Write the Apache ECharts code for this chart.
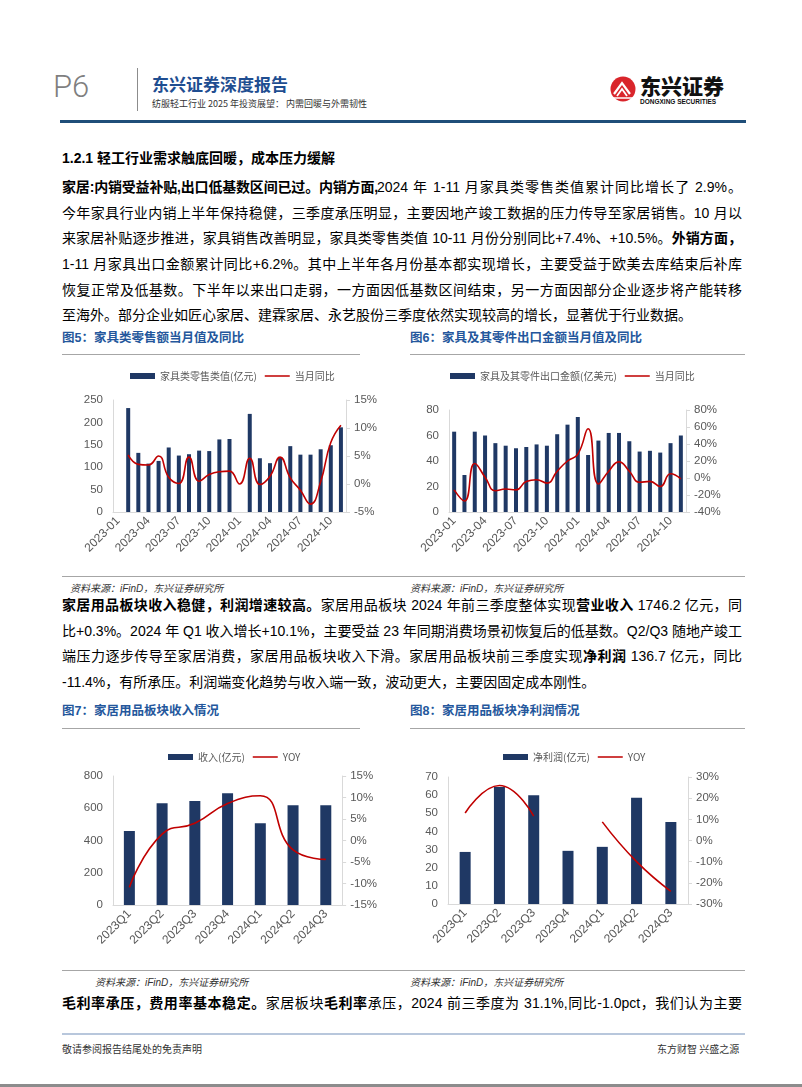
<!DOCTYPE html>
<html>
<head>
<meta charset="utf-8">
<script src="https://cdn.jsdelivr.net/npm/echarts@6/dist/echarts.min.js"></script>
<style>
  html, body { margin:0; padding:0; }
  body { width:802px; height:1087px; position:relative; background:#fff; overflow:hidden;
         font-family:"Liberation Sans","Noto Sans CJK SC",sans-serif; color:#000; }
  .abs { position:absolute; white-space:nowrap; }
  .ln { position:absolute; left:62px; width:680px; font-size:14px; line-height:20px; height:20px;
        text-align:justify; text-align-last:justify; white-space:normal; overflow:visible; }
  .last { text-align-last:left; }
  .figt { position:absolute; font-size:12.5px; font-weight:bold; color:#24579c; white-space:nowrap; }
  .src { position:absolute; font-size:10px; font-style:italic; color:#333; white-space:nowrap; }
  .hr { position:absolute; height:0; }
  .chart { position:absolute; }
</style>
</head>
<body>
<!-- header -->
<div class="abs" style="left:53px;top:68px;font-family:Roboto,'Liberation Sans';font-weight:300;font-size:31px;color:#7f7f7f;">P6</div>
<div class="abs" style="left:137px;top:68px;width:1px;height:43px;background:#8c8c8c;"></div>
<div class="abs" style="left:152px;top:71px;font-size:17px;font-weight:bold;color:#1f4e91;font-family:'Noto Sans CJK SC';">东兴证券深度报告</div>
<div class="abs" style="left:152px;top:97px;font-size:9px;color:#333;font-family:'Noto Sans CJK SC';">纺服轻工行业 2025 年投资展望：&nbsp;内需回暖与外需韧性</div>
<svg class="abs" style="left:608px;top:74px;" width="30" height="30" viewBox="0 0 30 30">
  <circle cx="15" cy="15" r="12.5" fill="#d9252b"/>
  <path d="M6 20 L14 9 L22 20" stroke="#fff" stroke-width="2.2" fill="none"/>
  <path d="M9 22 L14 15 L19 22" stroke="#fff" stroke-width="1.8" fill="none"/>
  <path d="M5 24 L25 24" stroke="#fff" stroke-width="1.5"/>
</svg>
<div class="abs" style="left:640px;top:72px;font-size:21px;line-height:26px;font-weight:900;color:#111;font-family:'Noto Sans CJK SC';">东兴证券</div>
<div class="abs" style="left:640px;top:98px;font-size:6.5px;line-height:8px;font-weight:bold;color:#111;">DONGXING SECURITIES</div>
<div class="abs" style="left:60px;top:120px;width:686px;height:3px;background:#1f4e79;"></div>

<!-- section heading -->
<div class="abs" style="left:62px;top:147px;font-size:14px;font-weight:bold;">1.2.1 轻工行业需求触底回暖，成本压力缓解</div>

<!-- paragraph 1 -->
<div class="ln" style="top:177px;"><b style="letter-spacing:-1.2px;">家居:内销受益补贴,出口低基数区间已过。内销方面,</b>2024 年 1-11 月家具类零售类值累计同比增长了 2.9%。</div>
<div class="ln" style="top:203px;">今年家具行业内销上半年保持稳健，三季度承压明显，主要因地产竣工数据的压力传导至家居销售。10 月以</div>
<div class="ln" style="top:228px;">来家居补贴逐步推进，家具销售改善明显，家具类零售类值 10-11 月份分别同比+7.4%、+10.5%。<b>外销方面，</b></div>
<div class="ln" style="top:254px;">1-11 月家具出口金额累计同比+6.2%。其中上半年各月份基本都实现增长，主要受益于欧美去库结束后补库</div>
<div class="ln" style="top:280px;">恢复正常及低基数。下半年以来出口走弱，一方面因低基数区间结束，另一方面因部分企业逐步将产能转移</div>
<div class="ln last" style="top:305px;">至海外。部分企业如匠心家居、建霖家居、永艺股份三季度依然实现较高的增长，显著优于行业数据。</div>

<!-- figure 5/6 titles -->
<div class="figt" style="left:62px;top:327px;">图5：家具类零售额当月值及同比</div>
<div class="figt" style="left:410px;top:327px;">图6：家具及其零件出口金额当月值及同比</div>
<div class="hr" style="left:62px;top:354px;width:298px;border-top:1.5px solid #a6a6a6;"></div>
<div class="hr" style="left:410px;top:354px;width:335px;border-top:1.5px solid #a6a6a6;"></div>

<div id="c5" class="chart" style="left:60px;top:360px;width:320px;height:215px;"></div>
<div id="c6" class="chart" style="left:400px;top:360px;width:330px;height:215px;"></div>

<div class="hr" style="left:62px;top:576px;width:683px;border-top:1.5px solid #a6a6a6;"></div>
<div class="src" style="left:70px;top:580px;">资料来源：iFinD，东兴证券研究所</div>
<div class="src" style="left:410px;top:580px;">资料来源：iFinD，东兴证券研究所</div>

<!-- paragraph 2 -->
<div class="ln" style="top:595px;"><b>家居用品板块收入稳健，利润增速较高。</b>家居用品板块 2024 年前三季度整体实现<b>营业收入</b> 1746.2 亿元，同</div>
<div class="ln" style="top:621px;">比+0.3%。2024 年 Q1 收入增长+10.1%，主要受益 23 年同期消费场景初恢复后的低基数。Q2/Q3 随地产竣工</div>
<div class="ln" style="top:646px;">端压力逐步传导至家居消费，家居用品板块收入下滑。家居用品板块前三季度实现<b>净利润</b> 136.7 亿元，同比</div>
<div class="ln last" style="top:672px;">-11.4%，有所承压。利润端变化趋势与收入端一致，波动更大，主要因固定成本刚性。</div>

<!-- figure 7/8 titles -->
<div class="figt" style="left:62px;top:700px;">图7：家居用品板块收入情况</div>
<div class="figt" style="left:410px;top:700px;">图8：家居用品板块净利润情况</div>
<div class="hr" style="left:62px;top:728px;width:298px;border-top:1.5px solid #a6a6a6;"></div>
<div class="hr" style="left:410px;top:728px;width:335px;border-top:1.5px solid #a6a6a6;"></div>

<div id="c7" class="chart" style="left:60px;top:735px;width:320px;height:233px;"></div>
<div id="c8" class="chart" style="left:400px;top:735px;width:330px;height:233px;"></div>

<div class="hr" style="left:62px;top:970px;width:683px;border-top:1.5px solid #a6a6a6;"></div>
<div class="src" style="left:95px;top:974px;">资料来源：iFinD，东兴证券研究所</div>
<div class="src" style="left:410px;top:974px;">资料来源：iFinD，东兴证券研究所</div>

<!-- paragraph 3 -->
<div class="ln" style="top:993px;"><b>毛利率承压，费用率基本稳定。</b>家居板块<b>毛利率</b>承压，2024 前三季度为 31.1%,同比-1.0pct，我们认为主要</div>

<!-- footer -->
<div class="hr" style="left:62px;top:1033px;width:683px;border-top:2px solid #b8c7dc;"></div>
<div class="abs" style="left:62px;top:1041px;font-size:10px;color:#333;font-family:'Noto Sans CJK SC';">敬请参阅报告结尾处的免责声明</div>
<div class="abs" style="left:657px;top:1041px;font-size:10px;color:#333;font-family:'Noto Sans CJK SC';">东方财智 兴盛之源</div>
<div class="abs" style="left:0px;top:1084px;width:802px;height:3px;background:#8c8c8c;"></div>

<script>
// ---------- data ----------
const months = ['2023-01','2023-02','2023-03','2023-04','2023-05','2023-06','2023-07','2023-08','2023-09','2023-10','2023-11','2023-12',
                '2024-01','2024-02','2024-03','2024-04','2024-05','2024-06','2024-07','2024-08','2024-09','2024-10','2024-11'];
const retailValue = [null, 232, 132, 108, 114, 144, 126, 129, 137, 136, 162, 163, null, 219, 120, 109, 122, 147, 128, 128, 140, 149, 189];
const retailYoY   = [null, 5.2, 3.5, 3.4, 5.0, 1.2, 0.1, 4.8, 0.5, 1.7, 2.2, 2.3, 0, 4.6, -0.1, 1.4, 4.8, 1.1, -1.1, -3.6, 0.4, 7.4, 10.5];
const exportValue = [63, 29, 63, 60, 54, 52, 50, 51, 53, 52, 61, 68.5, 74.5, 44.7, 56, 62, 62, 55.5, 47.4, 48, 46.6, 54, 60];
const exportYoY   = [-14, -27, 17, 1, -15, -13, -14, -4, -2, -6, 8, 20, 28, 58, -7, 8, 19, 8, -5, -4, -10, 5, -1];
const quarters = ['2023Q1','2023Q2','2023Q3','2023Q4','2024Q1','2024Q2','2024Q3'];
const revenue    = [459, 631, 645, 693, 507, 618, 618];
const revenueYoY = [-10.9, 1.5, 4.0, 8.6, 10.4, -2.2, -4.4];
const netProfit  = [28.7, 64.5, 60, 29.3, 31.5, 58.6, 45.2];
const profitYoY  = [13, 26, 11.5, null, 8.8, -10, -24];

// ---------- style ----------
const BAR = '#1f3864', LINE = '#c00000', AX = '#d9d9d9', TXT = '#595959';
const yFont = { fontSize: 11.5, color: TXT, fontFamily: 'Liberation Sans, Arial, sans-serif' };
const xFont = { fontSize: 12, color: TXT, fontFamily: 'Liberation Sans, Arial, sans-serif' };
// legend line icon: thin horizontal bar, tiny corner dots keep the 25x6 box
const LINE_ICON = 'path://M0,0L0.01,0L0.01,0.01Z M0,2.2L25,2.2L25,3.8L0,3.8Z M24.99,6L25,6L25,5.99Z';

function makeOption(cfg) {
  return {
    animation: false,
    legend: {
      left: cfg.legendLeft, top: cfg.legendTop, itemWidth: 25, itemHeight: 6, itemGap: 8,
      textStyle: { fontSize: 10, color: TXT, fontFamily: 'Noto Sans CJK SC' },
      data: [{ name: cfg.barName, icon: 'rect' }, { name: cfg.lineName, icon: LINE_ICON }]
    },
    grid: cfg.grid,
    xAxis: {
      type: 'category', data: cfg.cats, boundaryGap: true,
      axisLine: { lineStyle: { color: AX } }, axisTick: { show: false },
      axisLabel: Object.assign({ rotate: 45, interval: cfg.interval, margin: 7 }, xFont)
    },
    yAxis: [
      { type: 'value', min: cfg.lmin, max: cfg.lmax, interval: cfg.lint,
        axisLine: { show: true, lineStyle: { color: AX } }, axisTick: { show: false },
        splitLine: { show: false }, axisLabel: Object.assign({ margin: 10 }, yFont) },
      { type: 'value', min: cfg.rmin, max: cfg.rmax, interval: cfg.rint, position: 'right',
        axisLine: { show: true, lineStyle: { color: AX } }, axisTick: { show: true, length: 4, lineStyle: { color: AX } },
        splitLine: { show: false }, axisLabel: Object.assign({ margin: 8, formatter: '{value}%' }, yFont) }
    ],
    series: [
      { name: cfg.barName, type: 'bar', data: cfg.bars, barWidth: cfg.barWidth, itemStyle: { color: BAR } },
      { name: cfg.lineName, type: 'line', yAxisIndex: 1, data: cfg.line, smooth: true, symbol: 'none',
        connectNulls: false, lineStyle: { color: LINE, width: 1.6 }, itemStyle: { color: LINE } }
    ]
  };
}

echarts.init(document.getElementById('c5')).setOption(makeOption({
  legendLeft: 65, legendTop: 6, barName: '家具类零售类值(亿元)', lineName: '当月同比',
  grid: { left: 53, right: 29, top: 40, bottom: 63 }, cats: months, interval: 2,
  lmin: 0, lmax: 250, lint: 50, rmin: -5, rmax: 15, rint: 5,
  bars: retailValue, line: retailYoY, barWidth: 4
}));
echarts.init(document.getElementById('c6')).setOption(makeOption({
  legendLeft: 45, legendTop: 6, barName: '家具及其零件出口金额(亿美元)', lineName: '当月同比',
  grid: { left: 49, right: 44, top: 50, bottom: 63 }, cats: months, interval: 2,
  lmin: 0, lmax: 80, lint: 20, rmin: -40, rmax: 80, rint: 20,
  bars: exportValue, line: exportYoY, barWidth: 4
}));
echarts.init(document.getElementById('c7')).setOption(makeOption({
  legendLeft: 103, legendTop: 12, barName: '收入(亿元)', lineName: 'YOY',
  grid: { left: 53, right: 27, top: 41, bottom: 63 }, cats: quarters, interval: 0,
  lmin: 0, lmax: 800, lint: 200, rmin: -15, rmax: 15, rint: 5,
  bars: revenue, line: revenueYoY, barWidth: 11
}));
echarts.init(document.getElementById('c8')).setOption(makeOption({
  legendLeft: 98, legendTop: 12, barName: '净利润(亿元)', lineName: 'YOY',
  grid: { left: 48, right: 42, top: 42, bottom: 64 }, cats: quarters, interval: 0,
  lmin: 0, lmax: 70, lint: 10, rmin: -30, rmax: 30, rint: 10,
  bars: netProfit, line: profitYoY, barWidth: 11
}));
</script>
</body>
</html>
